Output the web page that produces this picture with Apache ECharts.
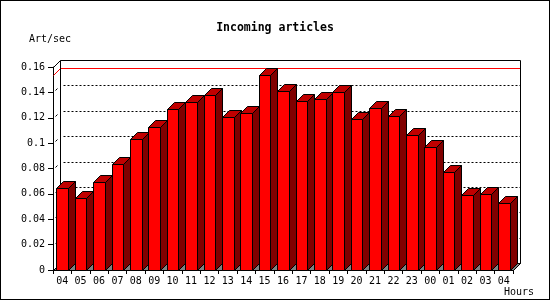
<!DOCTYPE html>
<html><head><meta charset="utf-8">
<script src="https://cdn.jsdelivr.net/npm/echarts@6/dist/echarts.min.js"></script>
<style>
html,body{margin:0;padding:0;background:#fff}
#c{position:absolute;left:0;top:0;width:550px;height:300px}
#f{position:absolute;left:0;top:0;width:550px;height:300px;box-sizing:border-box;border:1px solid #000;pointer-events:none}
</style>
</head><body><div id="c"></div><div id="f"></div>
<script>
const hours = ['04','05','06','07','08','09','10','11','12','13','14','15','16','17','18','19','20','21','22','23','00','01','02','03','04'];
const artPerSec = [0.0644,0.0565,0.0696,0.0833,0.103,0.113,0.1266,0.1327,0.1377,0.1203,0.1235,0.1537,0.1408,0.1332,0.1345,0.140,0.1187,0.1274,0.1211,0.1061,0.0967,0.077,0.0589,0.0597,0.0526];
const gridValues = [0.02,0.04,0.06,0.08,0.10,0.12,0.14];
const yMin = 0, yMax = 0.16, yStep = 0.02;
const peak = Math.max.apply(null, artPerSec);

const FONT = 'DejaVu Sans Mono';
const chart = echarts.init(document.getElementById('c'), null, {renderer:'canvas'});
const px = v => Math.round(v) + 0.5;

function depthOf(api){ return Math.round(api.size([1,0])[0] * 0.38); }

function renderWall(params, api){
  const cs = params.coordSys;
  const d = depthOf(api);
  const x0 = px(cs.x), x1 = px(cs.x + cs.width);
  const y0 = px(api.coord([0, yMin])[1]);
  const yTop = px(api.coord([0, yMax])[1]);
  const ch = [];
  ch.push({type:'polygon', shape:{points:[[x0,y0],[x1,y0],[x1+d,y0-d],[x0+d,y0-d]]}, style:{fill:'#808080', stroke:'#000', lineWidth:1}});
  gridValues.forEach(v => {
    const y = px(api.coord([0, v])[1]);
    ch.push({type:'line', shape:{x1:x0+2,y1:y-2,x2:x0+4,y2:y-4}, style:{stroke:'#000', lineWidth:1}});
    ch.push({type:'line', shape:{x1:x0+d+3,y1:y-d,x2:x1+d,y2:y-d}, style:{stroke:'#000', lineWidth:1, lineDash:[2,2]}});
  });
  const yp = px(api.coord([0, peak])[1]);
  ch.push({type:'polyline', shape:{points:[[x0,yp],[x0+d,yp-d],[x1+d,yp-d]]}, style:{stroke:'#ff0000', lineWidth:1, fill:null}});
  ch.push({type:'polyline', shape:{points:[[x0,yTop],[x0+d,yTop-d],[x1+d,yTop-d],[x1+d,y0-d]]}, style:{stroke:'#000', lineWidth:1, fill:null}});
  ch.push({type:'line', shape:{x1:x0+d,y1:yTop-d,x2:x0+d,y2:y0-d}, style:{stroke:'#000', lineWidth:1}});
  ch.push({type:'line', shape:{x1:x1,y1:y0,x2:x1+d,y2:y0-d}, style:{stroke:'#000', lineWidth:1}});
  return {type:'group', children:ch};
}

function renderBar(params, api){
  const i = api.value(0), v = api.value(1);
  const c = api.coord([i, v]);
  const base = api.coord([i, 0]);
  const band = api.size([1,0])[0];
  const w = band * 0.62;
  const d = depthOf(api);
  const xl = px(c[0] - w/2), xr = px(c[0] + w/2);
  const yt = px(c[1]), yb = px(base[1]);
  return {type:'group', children:[
    {type:'polygon', shape:{points:[[xr,yb],[xr+d,yb-d],[xr+d,yt-d],[xr,yt]]}, style:{fill:'#800000', stroke:'#000', lineWidth:1}},
    {type:'polygon', shape:{points:[[xl,yt],[xl+d,yt-d],[xr+d,yt-d],[xr,yt]]}, style:{fill:'#c00000', stroke:'#000', lineWidth:1}},
    {type:'rect', shape:{x:xl, y:yt, width:xr-xl, height:yb-yt}, style:{fill:'#ff0000', stroke:'#000', lineWidth:1}}
  ]};
}

chart.setOption({
  animation:false,
  backgroundColor:'#fff',
  title:{text:'Incoming articles', left:'center', top:22, padding:0,
    textStyle:{fontFamily:FONT, fontSize:11.5, fontWeight:'bold', color:'#000'}},
  grid:{left:53, right:37, top:67, bottom:30, containLabel:false, outerBoundsMode:'none'},
  xAxis:{type:'category', data:hours, boundaryGap:true,
    axisLine:{show:true, lineStyle:{color:'#000', width:1}},
    axisTick:{show:true, length:4, lineStyle:{color:'#000'}},
    axisLabel:{fontFamily:FONT, fontSize:10, color:'#000', margin:6, interval:0},
    splitLine:{show:false}},
  yAxis:{type:'value', min:yMin, max:yMax, interval:yStep,
    axisLine:{show:true, lineStyle:{color:'#000', width:1}},
    axisTick:{show:true, length:5, lineStyle:{color:'#000'}},
    axisLabel:{fontFamily:FONT, fontSize:10, color:'#000', margin:8},
    splitLine:{show:false}},
  graphic:[
    {type:'text', left:29, top:34, style:{text:'Art/sec', font:'10px "DejaVu Sans Mono"', fill:'#000'}},
    {type:'text', left:504, top:287, style:{text:'Hours', font:'10px "DejaVu Sans Mono"', fill:'#000'}}
  ],
  series:[
    {type:'custom', z:1, renderItem:renderWall, data:[[0,0]], silent:true},
    {type:'custom', z:2, renderItem:renderBar, data:hours.map((h,i)=>[i, artPerSec[i]]), silent:true}
  ]
});
</script></body></html>
